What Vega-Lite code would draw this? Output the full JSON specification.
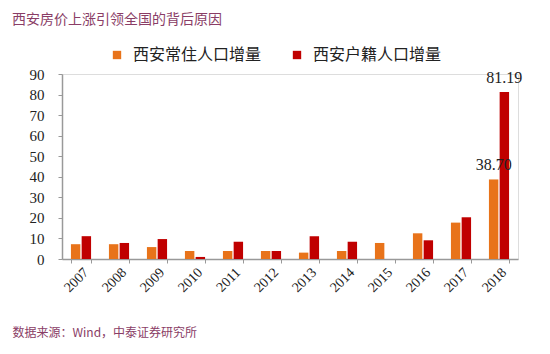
{
  "$schema": "https://vega.github.io/schema/vega-lite/v6.json",
  "autosize": {"type": "none"},
  "width": 456,
  "height": 185,
  "padding": {"left": 62, "top": 74, "right": 32, "bottom": 95},
  "background": "white",
  "title": {
    "text": "西安房价上涨引领全国的背后原因",
    "anchor": "start",
    "frame": "group",
    "dx": -50,
    "dy": -16,
    "font": "Noto Sans CJK SC",
    "fontSize": 14,
    "fontWeight": "normal",
    "color": "#8a3d66"
  },
  "data": {
    "values": [
      {"year": "2007", "series": "西安常住人口增量", "value": 7.2},
      {"year": "2007", "series": "西安户籍人口增量", "value": 11.1},
      {"year": "2008", "series": "西安常住人口增量", "value": 7.2},
      {"year": "2008", "series": "西安户籍人口增量", "value": 7.8},
      {"year": "2009", "series": "西安常住人口增量", "value": 5.8},
      {"year": "2009", "series": "西安户籍人口增量", "value": 9.7},
      {"year": "2010", "series": "西安常住人口增量", "value": 3.9},
      {"year": "2010", "series": "西安户籍人口增量", "value": 1.0},
      {"year": "2011", "series": "西安常住人口增量", "value": 3.9},
      {"year": "2011", "series": "西安户籍人口增量", "value": 8.4},
      {"year": "2012", "series": "西安常住人口增量", "value": 3.9},
      {"year": "2012", "series": "西安户籍人口增量", "value": 3.9},
      {"year": "2013", "series": "西安常住人口增量", "value": 3.1},
      {"year": "2013", "series": "西安户籍人口增量", "value": 11.1},
      {"year": "2014", "series": "西安常住人口增量", "value": 3.9},
      {"year": "2014", "series": "西安户籍人口增量", "value": 8.4},
      {"year": "2015", "series": "西安常住人口增量", "value": 7.8},
      {"year": "2015", "series": "西安户籍人口增量", "value": 0},
      {"year": "2016", "series": "西安常住人口增量", "value": 12.5},
      {"year": "2016", "series": "西安户籍人口增量", "value": 9.1},
      {"year": "2017", "series": "西安常住人口增量", "value": 17.7},
      {"year": "2017", "series": "西安户籍人口增量", "value": 20.3},
      {"year": "2018", "series": "西安常住人口增量", "value": 38.70, "label": "38.70"},
      {"year": "2018", "series": "西安户籍人口增量", "value": 81.19, "label": "81.19"}
    ]
  },
  "encoding": {
    "x": {
      "field": "year",
      "type": "nominal",
      "scale": {"paddingInner": 0.47, "paddingOuter": 0.235},
      "axis": {
        "title": "数据来源：Wind，中泰证券研究所",
        "titleFont": "Noto Sans CJK SC",
        "titleFontSize": 12,
        "titleFontWeight": "normal",
        "titleColor": "#8a3d66",
        "titleAnchor": "start",
        "titleAlign": "left",
        "titleBaseline": "middle",
        "titleX": -50,
        "titleY": 73,
        "labelAngle": -45,
        "labelFont": "Liberation Serif",
        "labelFontSize": 14,
        "labelColor": "#222",
        "labelPadding": 2,
        "tickBand": "extent",
        "tickSize": 4,
        "tickColor": "#999",
        "domainColor": "#999",
        "domainWidth": 1.5
      }
    },
    "y": {
      "field": "value",
      "type": "quantitative",
      "scale": {"domain": [0, 90], "nice": false},
      "axis": {
        "title": null,
        "values": [0, 10, 20, 30, 40, 50, 60, 70, 80, 90],
        "grid": false,
        "labelFont": "Liberation Serif",
        "labelFontSize": 15,
        "labelColor": "#222",
        "labelPadding": 14,
        "tickSize": 4,
        "tickColor": "#999",
        "domainColor": "#999",
        "domainWidth": 1.5
      }
    }
  },
  "layer": [
    {
      "mark": {"type": "bar", "cornerRadius": 0},
      "encoding": {
        "xOffset": {"field": "series", "type": "nominal", "sort": ["西安常住人口增量", "西安户籍人口增量"], "scale": {"paddingInner": 0.12}},
        "color": {
          "field": "series",
          "type": "nominal",
          "sort": ["西安常住人口增量", "西安户籍人口增量"],
          "scale": {"domain": ["西安常住人口增量", "西安户籍人口增量"], "range": ["#e8731a", "#c00000"]},
          "legend": {
            "title": null,
            "orient": "none",
            "direction": "horizontal",
            "legendX": 47,
            "legendY": -27,
            "symbolType": "square",
            "symbolSize": 70,
            "symbolStrokeWidth": 0,
            "labelFont": "Noto Sans CJK SC",
            "labelFontSize": 16,
            "labelColor": "#222",
            "labelOffset": 8,
            "labelLimit": 300,
            "columnPadding": 27
          }
        }
      }
    },
    {
      "transform": [{"filter": "isValid(datum.label)"}],
      "mark": {"type": "text", "baseline": "bottom", "dy": -6, "font": "Liberation Serif", "fontSize": 16, "color": "#222"},
      "encoding": {
        "xOffset": {"field": "series", "type": "nominal", "sort": ["西安常住人口增量", "西安户籍人口增量"], "scale": {"paddingInner": 0.12}},
        "text": {"field": "label", "type": "nominal"}
      }
    }
  ]
}
